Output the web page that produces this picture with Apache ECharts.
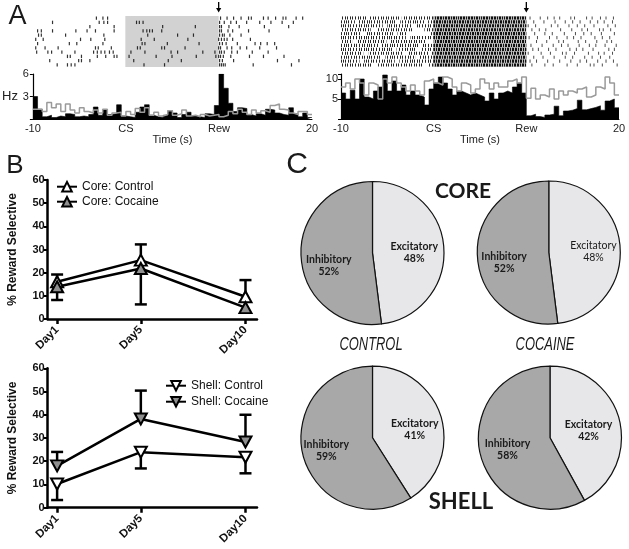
<!DOCTYPE html>
<html><head><meta charset="utf-8">
<script src="https://cdn.jsdelivr.net/npm/echarts@6/dist/echarts.min.js"></script>
<style>html,body{margin:0;padding:0;background:#fff}#c{width:629px;height:549px}</style>
</head><body><div id="c"></div>
<script>
// ---------- DATA ----------
const histStart = -10;           // s
const binWidth = 0.5;            // s
const histTickLabels = ['-10', 'CS', 'Rew', '20'];

const leftHistBlack = [3.0,1.3,0.3,0.5,0.2,0.4,0.3,0.7,0.6,0.3, 0.4,0.3,0.6,1.6,0.5,1.2,0.6,0.7,1.9,0.4,
  0.3,0.2,0.9,1.6,1.9,0.5,0.3,0.2,0.5,1.1, 0.8,0.2,0.6,0.9,0.4,0.3,0.2,0.7,0.6,1.8,
  6.0,4.1,2.1,1.0,1.5,1.4,0.6,0.4,0.7,0.5, 1.3,1.2,0.8,0.6,0.5,1.5,0.7,0.3,0.8,0.2];
const leftHistGray = [1.3,1.3,1.0,2.2,1.5,2.0,1.0,2.0,1.2,0.8, 1.5,1.0,0.8,1.2,0.8,1.3,0.5,0.8,0.9,0.4,
  1.0,0.6,1.4,0.9,1.5,0.5,0.9,0.4,0.6,1.1, 0.5,0.7,1.2,0.4,0.5,0.3,0.6,0.4,0.5,0.6,
  0.3,0.5,1.0,0.7,1.3,0.9,0.6,1.2,0.8,1.1, 0.9,1.8,2.0,1.3,1.2,0.8,0.6,1.0,1.0,0.6];
const rightHistBlack = [6.5,5.0,7.2,5.0,10.0,5.5,5.0,7.0,8.0,11.0, 7.0,9.5,7.0,8.5,6.0,7.0,6.0,5.5,3.5,7.5,
  9.0,10.5,9.0,7.5,6.0,7.0,6.5,6.0,6.5,6.0, 5.5,4.5,6.5,5.0,6.5,7.0,6.5,8.0,9.0,6.5,
  0.8,1.2,0.6,0.4,1.0,1.2,3.2,0.8,2.0,2.2, 2.6,4.7,2.3,2.6,2.9,3.3,2.2,4.5,5.0,2.8];
const rightHistGray = [8,9,7.5,10,9,6,9,8.5,5,10, 9,10.5,9,8,7,8.5,7,6,9.5,10,
  9,8.5,10.5,10,8,7,9,8.5,6.5,7.5, 10,9,7.5,9,8,8,9.5,10,9,10.5,
  5.2,7.7,5,6,5.5,7.5,5,7,6,7, 6.5,7.5,8,5.5,6,8,7.5,10.5,9,6];

// spike times (s), one list per trial
const leftRaster = [
  [-3.1,-2.4,-1.9,10.2,10.9,11.6,12.4,13.2,13.5,14.8,15.3,16.1,16.9,17.2,18.3,19.0],
  [-7.8,-2.8,-2.3,-1.9,1.2,1.5,1.9,10.1,10.6,11.3,11.9,13.0,14.4,15.6,16.8,18.0],
  [-3.8,-1.2,4.0,7.5,10.1,10.3,11.1,12.2,14.9,17.5],
  [-9.4,-9.0,-7.8,-5.3,-4.1,-3.2,-1.2,1.9,2.3,2.6,2.9,3.9,10.1,10.3,11.0,11.5,13.2,15.4],
  [-9.3,-9.0,-6.4,-2.3,2.4,5.6,7.3,10.1,10.4,10.6,11.2,12.4],
  [-9.6,-8.8,-4.8,-3.7,-2.2,1.7,3.1,6.7,10.0,10.3,10.6,10.9,11.5,13.4],
  [-9.4,-6.0,-5.2,-2.4,1.8,2.1,4.5,7.9,10.1,10.4,10.8,12.0,13.9,14.5,15.2,16.0],
  [-9.6,-8.6,-7.2,-3.2,-2.9,-1.5,1.3,1.6,3.9,4.2,6.4,10.0,10.2,10.9,11.4,12.3,13.0,14.4,16.2],
  [-9.5,-8.3,-7.9,-6.8,-5.4,-3.4,-3.0,-2.6,-2.2,-1.7,-1.3,0.6,2.1,4.9,5.6,8.3,9.6,10.1,10.3,10.6,11.4,12.0,13.6,15.3],
  [-6.2,-5.9,-4.7,-3.0,-2.1,-1.2,-0.9,0.4,3.3,5.0,7.6,9.7,10.0,10.2,10.5,11.3,13.3,14.8,17.0],
  [-8.1,-5.0,-4.7,-3.8,0.9,4.6,6.0,10.1,10.4,11.6,16.3,18.6],
  [-7.3,-6.2,-5.8,-5.4,2.0,4.2,10.1,10.3,10.5,10.7,13.7,17.8]
];
// dense firing stretches before reward (start, end in s), one list per trial
const rightRasterDense = [
  [[-10,-7.2],[-6.9,-3.5],[-3.2,10]],
  [[-10,-8.5],[-8.1,-4.0],[-3.6,-1.0],[-0.6,10]],
  [[-10,-5.5],[-5.0,-2.4],[-1.9,10]],
  [[-10,-6.8],[-6.2,-2.2],[-1.0,10]],
  [[-10,-7.9],[-7.4,-4.4],[-3.9,-2.8],[-0.3,10]],
  [[-10,-3.0],[-2.5,10]],
  [[-10,-8.8],[-8.2,-5.1],[-4.7,-0.8],[0,10]],
  [[-10,-6.0],[-5.6,-1.6],[-1.2,10]],
  [[-10,-4.5],[-4.0,-1.8],[-1.4,10]],
  [[-10,-7.6],[-7.0,-3.3],[-2.8,-0.6],[-0.2,10]],
  [[-10,-5.8],[-5.2,-2.0],[-1.5,10]],
  [[-10,-8.0],[-7.5,-4.2],[-3.7,10]],
  [[-10,-6.6],[-6.0,-1.2],[-0.5,10]]
];
const rightRasterSparse = [
  [10.4,11.5,12.3,13.0,13.6,14.8,15.2,16.5,17.1,18.0,18.6,19.4],
  [10.8,11.9,13.1,14.2,15.0,15.8,16.9,17.7,18.4,19.3],
  [10.2,11.0,12.7,13.4,14.6,15.5,16.3,17.3,18.8,19.6],
  [10.6,11.4,12.1,13.7,14.9,16.0,16.6,17.9,18.3,19.1],
  [10.9,12.0,12.8,14.1,15.3,16.2,17.0,18.1,19.5],
  [10.3,11.2,12.5,13.3,14.4,15.1,15.9,17.4,18.2,19.0],
  [11.1,12.2,13.5,14.0,15.6,16.4,17.6,18.7,19.2],
  [10.5,11.7,12.9,13.8,14.5,15.7,16.8,17.5,18.5,19.7],
  [10.7,11.3,12.4,13.2,14.7,15.4,16.1,17.2,18.9,19.5],
  [10.2,11.6,12.6,13.9,14.3,15.2,16.7,17.8,18.4,19.3],
  [10.8,11.8,13.0,14.2,15.0,16.3,17.1,18.0,19.0],
  [10.4,11.1,12.3,13.6,14.8,15.8,16.5,17.7,18.6,19.4],
  [10.6,12.0,12.9,14.4,15.5,16.9,17.3,18.2,19.8]
];

const days = [1, 5, 10];
const coreControl = [16.1, 25.4, 9.6];
const coreControlSemUp = [3.1, 6.8, 7.2];
const coreCocaine = [13.9, 21.8, 4.9];
const coreCocaineSemDown = [5.7, 15.5, 0];
const shellControl = [10.2, 23.9, 21.7];
const shellControlSemDown = [6.9, 7.0, 6.9];
const shellCocaine = [18.0, 38.2, 28.3];
const shellCocaineSemUp = [6.0, 12.2, 11.7];

const pieCats = ['Excitatory', 'Inhibitory'];
const pieCoreControl = [48, 52];
const pieCoreCocaine = [48, 52];
const pieShellControl = [41, 59];
const pieShellCocaine = [42, 58];

// ---------- BUILD ----------
const AR = 'Liberation Sans';
function stepData(vals){
  const d = vals.map((v,i)=>[histStart + i*binWidth, v]);
  d.push([histStart + vals.length*binWidth, vals[vals.length-1]]);
  return d;
}
function rasterPts(rows){ return rows.flatMap((row,r)=>row.map(t=>[t,r])); }

function makePattern(cols, color){
  const c = document.createElement('canvas');
  c.width = 23; c.height = 4;
  const g = c.getContext('2d');
  g.fillStyle = color;
  cols.forEach(x=>g.fillRect(x,0,1,4));
  return c;
}
const patA = [
  makePattern([0,2,5,7,10,13,15,18,20],'#262626'),
  makePattern([1,3,6,9,11,14,17,19,22],'#262626'),
  makePattern([0,3,5,8,11,14,16,19,21],'#262626')
];
const patB = [
  makePattern([0,1,3,4,6,8,9,11,12,14,16,17,19,21],'#111'),
  makePattern([0,2,3,5,7,8,10,12,13,15,17,18,20,22],'#111'),
  makePattern([1,2,4,6,7,9,10,12,14,15,17,19,20,22],'#111')
];

function renderDense(params, api){
  const row = api.value(0), s = api.value(1), e = api.value(2);
  const h = 3.1;
  const y = api.coord([0,row])[1] - h/2;
  const ch = [];
  if (s < 0){
    const x0 = api.coord([s,row])[0], x1 = api.coord([Math.min(e,0),row])[0];
    ch.push({type:'rect', shape:{x:x0,y:y,width:x1-x0,height:h}, style:{fill:{image:patA[row%3],repeat:'repeat'}}});
  }
  if (e > 0){
    const x0 = api.coord([Math.max(s,0),row])[0], x1 = api.coord([e,row])[0];
    ch.push({type:'rect', shape:{x:x0,y:y,width:x1-x0,height:h}, style:{fill:{image:patB[row%3],repeat:'repeat'}}});
  }
  return {type:'group', children:ch};
}
function renderArrow(params, api){
  const p = api.coord([api.value(0), api.value(1)]);
  const x = p[0], y = p[1];
  return {type:'group', children:[
    {type:'line', shape:{x1:x,y1:y-14,x2:x,y2:y-7}, style:{stroke:'#000',lineWidth:1.3}},
    {type:'polygon', shape:{points:[[x-2.6,y-8],[x+2.6,y-8],[x,y-3.5]]}, style:{fill:'#000'}}
  ]};
}
function renderErr(params, api){
  const x = api.value(0), m = api.value(1), e = api.value(2);
  if (m === e) return null;
  const p0 = api.coord([x,m]), p1 = api.coord([x,e]);
  return {type:'group', children:[
    {type:'line', shape:{x1:p0[0],y1:p0[1],x2:p1[0],y2:p1[1]}, style:{stroke:'#000',lineWidth:2.5}},
    {type:'line', shape:{x1:p1[0]-6,y1:p1[1],x2:p1[0]+6,y2:p1[1]}, style:{stroke:'#000',lineWidth:2.5}}
  ]};
}
function errData(mean, sem, dir){ return days.map((d,i)=>[d, mean[i], +(mean[i]+dir*sem[i]).toFixed(2)]); }
function lineData(vals){ return days.map((d,i)=>[d, vals[i]]); }

const rasterX = (gi)=>({gridIndex:gi, type:'value', min:-10, max:20, show:false});
const histX = (gi)=>({gridIndex:gi, type:'value', min:-10, max:20, interval:10,
  axisLine:{onZero:false, lineStyle:{color:'#000',width:1}}, axisTick:{show:false}, splitLine:{show:false},
  axisLabel:{fontFamily:AR, fontSize:11, color:'#222', margin:4,
    formatter:(v)=>histTickLabels[Math.round((v-histStart)/10)]},
  name:'Time (s)', nameLocation:'middle', nameGap:15, nameTextStyle:{fontFamily:AR, fontSize:11, color:'#222'}});
const bX = (gi)=>({gridIndex:gi, type:'value', min:0.55, max:10.55,
  axisLine:{onZero:false, lineStyle:{color:'#000',width:2.5}}, splitLine:{show:false},
  axisTick:{customValues:days, length:5, lineStyle:{width:2.5,color:'#000'}},
  axisLabel:{customValues:days, rotate:45, formatter:(v)=>'Day'+v, fontFamily:AR, fontWeight:'bold', fontSize:11.5, color:'#111', margin:9}});
const bY = (gi)=>({gridIndex:gi, type:'value', min:0, max:60, interval:10,
  axisLine:{show:true, onZero:false, lineStyle:{color:'#000',width:2.5}}, splitLine:{show:false},
  axisTick:{show:true, length:4, lineStyle:{width:2,color:'#000'}},
  axisLabel:{fontFamily:AR, fontWeight:'bold', fontSize:11, color:'#111', margin:3},
  name:'% Reward Selective', nameLocation:'middle', nameGap:29, nameRotate:90,
  nameTextStyle:{fontFamily:AR, fontWeight:'bold', fontSize:12, color:'#111'}});

const lineSeries = (name, gi, vals, fill, rot)=>({type:'line', name, xAxisIndex:gi, yAxisIndex:gi,
  data:lineData(vals), symbol:'triangle', symbolSize:[12,11], symbolRotate:rot,
  itemStyle:{color:fill, borderColor:'#000', borderWidth:2},
  lineStyle:{color:'#000', width:2.5}, z:3, silent:true});
const errSeries = (gi, mean, sem, dir)=>({type:'custom', xAxisIndex:gi, yAxisIndex:gi, renderItem:renderErr,
  data:errData(mean, sem, dir), z:2, silent:true});

const pieLabelOffsets = {
  coreCtrl:[[3,2],[-5,10]], coreCoc:[[6,2],[-6,8]], shellCtrl:[[5,3],[-9,2]], shellCoc:[[1,3],[-5,2]]
};
const pieSeries = (vals, center, key, lightExc)=>({type:'pie', center, radius:71.5, startAngle:90, clockwise:true,
  silent:true, avoidLabelOverlap:false,
  data:pieCats.map((n,i)=>{
    const d = {name:n, value:vals[i], itemStyle:{color: i===0 ? '#e7e7e9' : '#a8a8a8'}};
    if (lightExc && i===0) d.label = {fontWeight:'normal'};
    return d;
  }),
  itemStyle:{borderColor:'#111', borderWidth:1.2},
  label:{show:true, position:'inside', formatter:'{b}\n{c}%', fontFamily:'Lato', fontWeight:'bold', fontSize:10.5, lineHeight:12, color:'#1a1a1a'},
  labelLine:{show:false},
  labelLayout:(p)=>{ const o = pieLabelOffsets[key][p.dataIndex]; return {dx:o[0], dy:o[1]}; }
});

const txt = (t, x, y, font, sx)=>({type:'text', x, y, scaleX: sx || 1,
  style:{text:t, font, fill:'#1a1a1a', align:'center', verticalAlign:'middle', textAlign:'center', textVerticalAlign:'middle'}});

const option = {
  animation:false,
  backgroundColor:'#fff',
  grid:[
    {left:32, top:16, width:280, height:51},
    {left:32, top:74, width:280, height:45},
    {left:341, top:16, width:278, height:51},
    {left:341, top:74, width:278, height:45},
    {left:47.7, top:180, width:209.3, height:139},
    {left:47.7, top:368.3, width:209.3, height:139.4}
  ],
  xAxis:[rasterX(0), histX(1), rasterX(2), histX(3), bX(4), bX(5)],
  yAxis:[
    {gridIndex:0, type:'value', min:-0.5, max:leftRaster.length-0.5, inverse:true, show:false},
    {gridIndex:1, type:'value', min:0, max:6, interval:3, splitLine:{show:false},
      axisLine:{show:true, onZero:false, lineStyle:{color:'#000',width:1.2}}, axisTick:{show:true,length:3,lineStyle:{color:'#000'}},
      axisLabel:{fontFamily:AR, fontSize:11, color:'#222', margin:4, formatter:(v)=> v===0 ? '' : v},
      name:'Hz', nameLocation:'middle', nameRotate:0, nameGap:14, nameTextStyle:{fontFamily:AR, fontSize:13, color:'#222'}},
    {gridIndex:2, type:'value', min:-0.5, max:rightRasterDense.length-0.5, inverse:true, show:false},
    {gridIndex:3, type:'value', min:0, max:11.25, interval:5, splitLine:{show:false},
      axisLine:{show:true, onZero:false, lineStyle:{color:'#000',width:1.2}}, axisTick:{show:true,length:3,lineStyle:{color:'#000'}},
      axisLabel:{fontFamily:AR, fontSize:11, color:'#222', margin:3, formatter:(v)=> (v===0 || v%5!==0) ? '' : v}},
    bY(4), bY(5)
  ],
  legend:[
    {left:56, top:180.7, orient:'vertical', padding:0, itemWidth:20, itemHeight:12, itemGap:3, selectedMode:false,
      data:['Core: Control','Core: Cocaine'], textStyle:{fontFamily:AR, fontSize:12, color:'#111'}},
    {left:165, top:379.7, orient:'vertical', padding:0, itemWidth:20, itemHeight:12, itemGap:4, selectedMode:false,
      data:['Shell: Control','Shell: Cocaine'], textStyle:{fontFamily:AR, fontSize:12, color:'#111'}}
  ],
  graphic:[
    txt('A', 17.5, 17, 'normal 27px '+AR),
    txt('B', 15, 166, 'normal 26px '+AR),
    txt('C', 297, 165, 'normal 30px '+AR),
    txt('CORE', 463, 191, 'bold 21px Lato'),
    txt('SHELL', 461, 502, 'bold 22px Lato'),
    txt('CONTROL', 371, 345, 'italic 19px "Liberation Sans"', 0.68),
    txt('COCAINE', 545, 345, 'italic 19px "Liberation Sans"', 0.68)
  ],
  series:[
    // left raster
    {type:'scatter', xAxisIndex:0, yAxisIndex:0, data:rasterPts(leftRaster), symbol:'rect', symbolSize:[1.2,3.4],
      itemStyle:{color:'#000'}, silent:true,
      markArea:{silent:true, itemStyle:{color:'#d2d2d2'}, data:[[{xAxis:0},{xAxis:10}]]}},
    {type:'custom', xAxisIndex:0, yAxisIndex:0, renderItem:renderArrow, data:[[10,-0.5]], silent:true},
    // left histogram
    {type:'line', xAxisIndex:1, yAxisIndex:1, data:stepData(leftHistBlack), step:'end', symbol:'none',
      lineStyle:{color:'#000', width:0.6}, areaStyle:{color:'#000', opacity:1}, silent:true, z:2},
    {type:'line', xAxisIndex:1, yAxisIndex:1, data:stepData(leftHistGray), step:'end', symbol:'none',
      lineStyle:{color:'#9a9a9a', width:1.5}, silent:true, z:3},
    // right raster
    {type:'scatter', xAxisIndex:2, yAxisIndex:2, data:rasterPts(rightRasterSparse), symbol:'rect', symbolSize:[1,3.1],
      itemStyle:{color:'#222'}, silent:true,
      markArea:{silent:true, itemStyle:{color:'#bdbdbd'}, data:[[{xAxis:0},{xAxis:10}]]}},
    {type:'custom', xAxisIndex:2, yAxisIndex:2, renderItem:renderDense,
      data:rightRasterDense.flatMap((segs,r)=>segs.map(s=>[r,s[0],s[1]])), encode:{x:[1,2], y:0}, silent:true, z:3},
    {type:'custom', xAxisIndex:2, yAxisIndex:2, renderItem:renderArrow, data:[[10,-0.5]], silent:true},
    // right histogram
    {type:'line', xAxisIndex:3, yAxisIndex:3, data:stepData(rightHistBlack), step:'end', symbol:'none',
      lineStyle:{color:'#000', width:0.6}, areaStyle:{color:'#000', opacity:1}, silent:true, z:2},
    {type:'line', xAxisIndex:3, yAxisIndex:3, data:stepData(rightHistGray), step:'end', symbol:'none',
      lineStyle:{color:'#9a9a9a', width:1.5}, silent:true, z:3},
    // B top (core)
    errSeries(4, coreControl, coreControlSemUp, 1),
    errSeries(4, coreCocaine, coreCocaineSemDown, -1),
    lineSeries('Core: Control', 4, coreControl, '#fff', 0),
    lineSeries('Core: Cocaine', 4, coreCocaine, '#8f8f8f', 0),
    // B bottom (shell)
    errSeries(5, shellControl, shellControlSemDown, -1),
    errSeries(5, shellCocaine, shellCocaineSemUp, 1),
    lineSeries('Shell: Control', 5, shellControl, '#fff', 180),
    lineSeries('Shell: Cocaine', 5, shellCocaine, '#8f8f8f', 180),
    // C pies
    pieSeries(pieCoreControl, [372.5, 253], 'coreCtrl', false),
    pieSeries(pieCoreCocaine, [548.8, 252.5], 'coreCoc', true),
    pieSeries(pieShellControl, [372.5, 437.7], 'shellCtrl', false),
    pieSeries(pieShellCocaine, [550, 437.7], 'shellCoc', false)
  ]
};
const chart = echarts.init(document.getElementById('c'), null, {renderer:'canvas'});
chart.setOption(option);
</script>
</body></html>
